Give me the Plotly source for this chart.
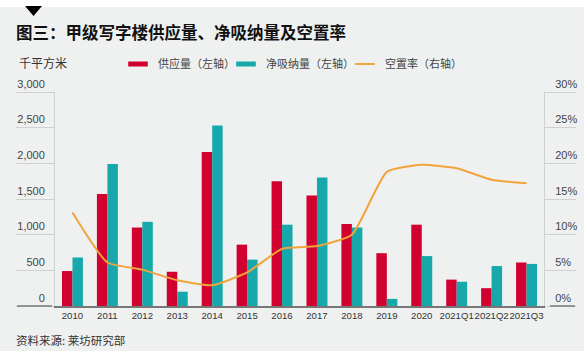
import plotly.graph_objects as go

categories = ["2010", "2011", "2012", "2013", "2014", "2015", "2016", "2017",
              "2018", "2019", "2020", "2021Q1", "2021Q2", "2021Q3"]
supply = [490, 1570, 1100, 480, 2160, 860, 1750, 1550, 1150, 740, 1140, 370, 250, 610]
absorption = [680, 1990, 1180, 200, 2530, 650, 1140, 1800, 1100, 100, 700, 340, 560, 590]
vacancy = [0.131, 0.061, 0.051, 0.036, 0.029, 0.047, 0.080, 0.084, 0.100, 0.188, 0.198, 0.193, 0.177, 0.172]

names = ["供应量（左轴）", "净吸纳量（左轴）", "空置率（右轴）"]
RED = "#d1002f"
TEAL = "#16a8ab"
ORANGE = "#f2a33a"
BG = "#eff1f1"
FONT = "Liberation Sans, Arial, Noto Sans CJK SC, sans-serif"
CJK = "Noto Sans CJK SC, sans-serif"

fig = go.Figure()
fig.add_trace(go.Bar(x=categories, y=supply, name=names[0], marker_color=RED,
                     marker_line_width=0, showlegend=False, legendgroup="a"))
fig.add_trace(go.Bar(x=categories, y=absorption, name=names[1], marker_color=TEAL,
                     marker_line_width=0, showlegend=False, legendgroup="b"))
fig.add_trace(go.Scatter(x=categories, y=vacancy, name=names[2], mode="lines",
                         line=dict(color=ORANGE, width=2, shape="spline", smoothing=0.5),
                         yaxis="y2", showlegend=False, legendgroup="c"))

# legend entries (flat swatches)
for i, (nm, col, lg) in enumerate(zip(names, [RED, TEAL, ORANGE], ["legend", "legend2", "legend3"])):
    fig.add_trace(go.Scatter(x=[None], y=[None], mode="markers", name=nm,
                             legendgroup="abc"[i], legend=lg,
                             marker=dict(symbol="line-ew", size=14,
                                         line=dict(width=5 if i < 2 else 2, color=col))))

leg_common = dict(xref="container", yref="container", yanchor="middle", xanchor="left",
                  bgcolor="rgba(0,0,0,0)", font=dict(family=CJK, size=11, color="#444"),
                  orientation="h", itemwidth=30, tracegroupgap=0)

fig.update_layout(
    width=584, height=351,
    paper_bgcolor=BG, plot_bgcolor=BG,
    margin=dict(l=55, r=40, t=92, b=45, autoexpand=False),
    barmode="group", bargap=0.4, bargroupgap=0,
    font=dict(family=FONT, size=11, color="#333"),
    title=dict(text="<b>图三：甲级写字楼供应量、净吸纳量及空置率</b>",
               font=dict(family=CJK, size=16.5, color="#111"),
               x=16 / 584, xref="container", xanchor="left",
               y=1 - 33 / 351, yref="container", yanchor="middle"),
    legend=dict(x=118 / 584, y=1 - 64 / 351, **leg_common),
    legend2=dict(x=226 / 584, y=1 - 64 / 351, **leg_common),
    legend3=dict(x=345 / 584, y=1 - 64 / 351, **leg_common),
    xaxis=dict(type="category", showline=True, linecolor="#777", linewidth=1.5,
               ticks="", tickangle=0, automargin=False,
               tickfont=dict(size=9.6, color="#333"), showgrid=False),
    yaxis=dict(range=[0, 3000], dtick=500, tickformat=",", showgrid=False, zeroline=False,
               showline=True, linecolor="#cfd1d1", linewidth=1, automargin=False,
               ticks="outside", ticklen=38, tickcolor="#cfd1d1", tickwidth=1,
               ticklabelposition="outside top", ticklabelstandoff=7,
               tickfont=dict(size=11, color="#444")),
    yaxis2=dict(range=[0, 0.30], dtick=0.05, tickformat=".0%", overlaying="y", side="right",
                showgrid=False, zeroline=False, automargin=False,
                showline=True, linecolor="#cfd1d1", linewidth=1,
                ticks="outside", ticklen=31, tickcolor="#cfd1d1", tickwidth=1,
                ticklabelposition="outside top", ticklabelstandoff=8,
                tickfont=dict(size=11, color="#444")),
)

# white top strip and marker triangle
fig.add_shape(type="rect", xref="paper", yref="paper", x0=-0.2, x1=1.2,
              y0=(306 - 7) / 214, y1=2, fillcolor="white", line_width=0, layer="below")
fig.add_shape(type="path", xref="paper", yref="paper",
              path="M {a},{t} L {b},{t} L {c},{bt} Z".format(
                  a=(25 - 55) / 489, b=(42 - 55) / 489, c=(33.5 - 55) / 489,
                  t=(306 - 6) / 214, bt=(306 - 16) / 214),
              fillcolor="black", line_width=0)
# darker baseline extensions under the 0 labels
fig.add_shape(type="line", xref="paper", yref="paper", x0=(17 - 55) / 489, x1=(52 - 55) / 489,
              y0=0, y1=0, line=dict(color="#777", width=1.5))
fig.add_shape(type="line", xref="paper", yref="paper", x0=(550 - 55) / 489, x1=(575 - 55) / 489,
              y0=0, y1=0, line=dict(color="#777", width=1.5))

fig.add_annotation(text="千平方米", xref="paper", yref="paper", x=(17 - 55) / 489, y=(306 - 62) / 214,
                   xanchor="left", yanchor="middle", showarrow=False,
                   font=dict(family=CJK, size=12, color="#333"))
fig.add_annotation(text="资料来源: 莱坊研究部", xref="paper", yref="paper", x=(14 - 55) / 489,
                   y=(306 - 340) / 214, xanchor="left", yanchor="middle", showarrow=False,
                   font=dict(family=CJK, size=11.5, color="#333"))

fig.write_html("out.html")
